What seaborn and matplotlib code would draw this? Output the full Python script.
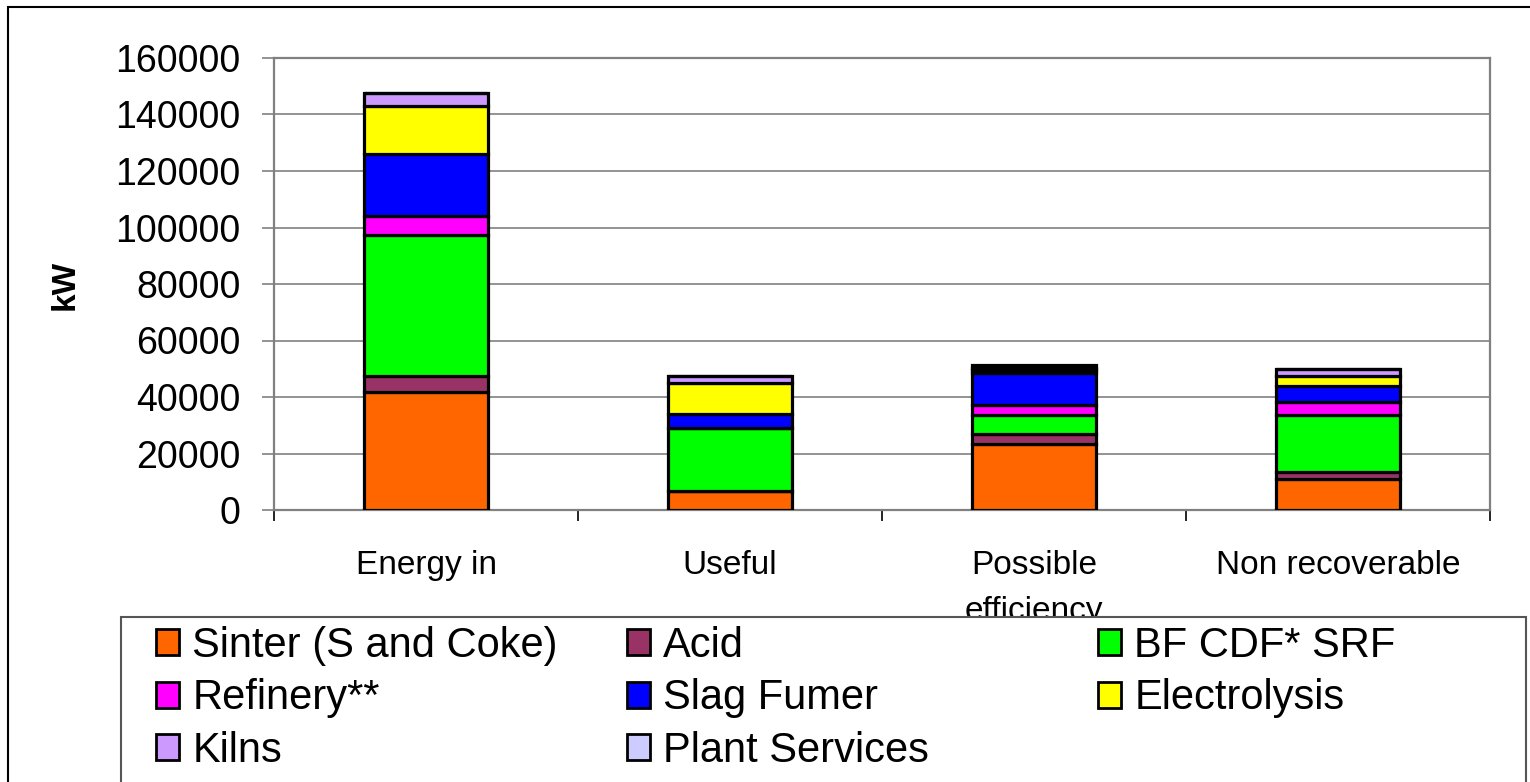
import numpy as np
import pandas as pd
import matplotlib
matplotlib.use("Agg")
import matplotlib.pyplot as plt
from matplotlib.patches import Rectangle, Patch
import seaborn as sns

# categories on the x axis
categories = ["Energy in", "Useful", "Possible\nefficiency", "Non recoverable"]

# stacked series, bottom to top (kW)
series_names = ["Sinter (S and Coke)", "Acid", "BF CDF* SRF", "Refinery**",
                "Slag Fumer", "Electrolysis", "Kilns", "Plant Services"]
sinter = [41700, 6700, 23500, 11000]
acid = [5900, 0, 3500, 2300]
bf_cdf_srf = [49700, 22400, 6800, 20300]
refinery = [6900, 0, 3500, 4700]
slag_fumer = [21700, 4800, 11300, 5700]
electrolysis = [17100, 11200, 900, 3400]
kilns = [4500, 2300, 900, 2400]
plant_services = [0, 0, 800, 0]

series_values = [sinter, acid, bf_cdf_srf, refinery, slag_fumer,
                 electrolysis, kilns, plant_services]
series_colors = ["#FF6600", "#993366", "#00FF00", "#FF00FF",
                 "#0000FF", "#FFFF00", "#CC99FF", "#CCCCFF"]

y_ticks = [0, 20000, 40000, 60000, 80000, 100000, 120000, 140000, 160000]

W, H = 1530, 782
sns.set_style("white")
plt.rcParams["font.family"] = ["Liberation Sans", "DejaVu Sans"]
plt.rcParams["text.color"] = "black"
plt.rcParams["axes.labelcolor"] = "black"
plt.rcParams["xtick.color"] = "black"
plt.rcParams["ytick.color"] = "black"

fig = plt.figure(figsize=(W / 100, H / 100), dpi=100)
ax = fig.add_axes([274 / W, 1 - 510 / H, (1490 - 274) / W, (510 - 58) / H])

bottoms = np.zeros(len(categories))
for name, vals, col in zip(series_names, series_values, series_colors):
    df = pd.DataFrame({"cat": categories, "kW": vals})
    sns.barplot(data=df, x="cat", y="kW", bottom=bottoms, color=col,
                width=0.41, edgecolor="black", linewidth=2.3,
                saturation=1, ax=ax, zorder=3)
    bottoms = bottoms + np.array(vals)

ax.set_ylim(0, 160000)
ax.set_xlim(-0.5, len(categories) - 0.5)
ax.set_yticks(y_ticks)
ax.set_yticklabels([str(v) for v in y_ticks], fontsize=27, color="black")
ax.yaxis.grid(True, color="#808080", linewidth=1.2, zorder=0)
ax.set_axisbelow(True)
ax.set_xlabel("")
ax.set_ylabel("")

for s in ax.spines.values():
    s.set_color("#808080")
    s.set_linewidth(1.6)

ax.tick_params(axis="y", which="major", direction="out", length=9,
               width=1.2, color="#808080", pad=15, left=True)
ax.set_xticks(range(len(categories)))
ax.set_xticklabels(categories, fontsize=24, linespacing=1.6, va="top",
                   color="black")
ax.tick_params(axis="x", which="major", length=0, pad=29)
ax.set_xticks(np.arange(-0.5, len(categories), 1.0), minor=True)
ax.tick_params(axis="x", which="minor", direction="out", length=8,
               width=1.2, color="black", bottom=True)

fig.text(65 / W, 1 - 285 / H, "kW", rotation=90, fontsize=24,
         fontweight="bold", ha="center", va="center", color="black")

# outer chart frame
fig.patches.append(Rectangle((8 / W, -0.1), 1.2, (H - 7) / H + 0.1,
                             transform=fig.transFigure, fill=False,
                             edgecolor="black", linewidth=1.5, zorder=1))

# legend frame (covers the second line of the clipped label)
fig.patches.append(Rectangle((121 / W, -0.1), (1526 - 121) / W,
                             (H - 617) / H + 0.1,
                             transform=fig.transFigure, facecolor="white",
                             edgecolor="#555555", linewidth=1.5, zorder=8))

handles = [Patch(facecolor=c, edgecolor="black", linewidth=2.0)
           for c in series_colors]
columns = [[0, 3, 6], [1, 4, 7], [2, 5]]
col_x = [156, 627, 1098]
for xs, idx in zip(col_x, columns):
    leg = fig.legend([handles[i] for i in idx], [series_names[i] for i in idx],
                     loc="upper left", bbox_to_anchor=(xs / W, 1 - 626 / H),
                     frameon=False, fontsize=30, handlelength=0.55,
                     handleheight=0.58, handletextpad=0.32, labelspacing=0.3,
                     borderpad=0, borderaxespad=0, labelcolor="black")
    leg.set_zorder(10)

fig.savefig("out.png", dpi=100)
